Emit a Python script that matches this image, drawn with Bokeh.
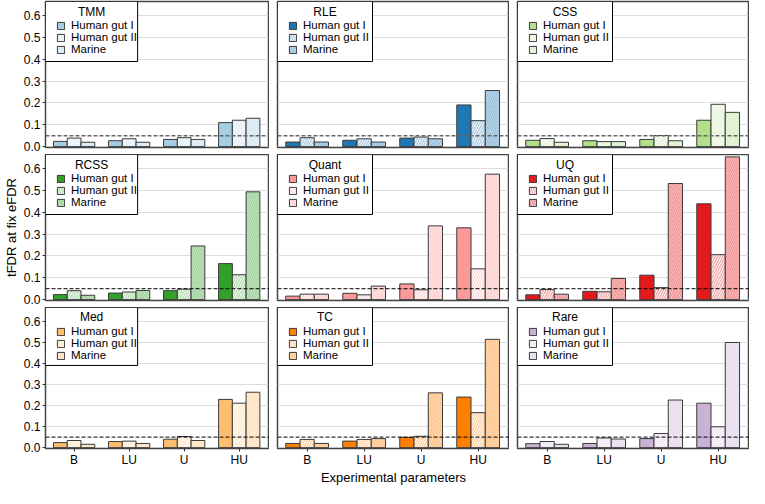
from bokeh.plotting import figure
from bokeh.layouts import gridplot
from bokeh.models import Range1d, FixedTicker, Span, Legend, LegendItem, PrintfTickFormatter
from bokeh.core.properties import value
from bokeh.embed import file_html
from bokeh.resources import INLINE

params = ["B", "LU", "U", "HU"]
datasets = ["Human gut I", "Human gut II", "Marine"]
methods = ["TMM", "RLE", "CSS", "RCSS", "Quant", "UQ", "Med", "TC", "Rare"]
colors = ["#a6cee3", "#1f78b4", "#b2df8a", "#33a02c", "#fb9a99", "#e31a1c",
          "#fdbf6f", "#ff7f00", "#cab2d6"]
y_ticks = [0.0, 0.1, 0.2, 0.3, 0.4, 0.5, 0.6]
efdr = 0.05

tmm_gut1 = [0.024, 0.027, 0.033, 0.110]
tmm_gut2 = [0.039, 0.036, 0.041, 0.121]
tmm_marine = [0.020, 0.020, 0.033, 0.130]
rle_gut1 = [0.021, 0.029, 0.039, 0.191]
rle_gut2 = [0.041, 0.036, 0.044, 0.119]
rle_marine = [0.021, 0.021, 0.036, 0.257]
css_gut1 = [0.029, 0.027, 0.033, 0.121]
css_gut2 = [0.037, 0.023, 0.051, 0.194]
css_marine = [0.020, 0.023, 0.027, 0.157]
rcss_gut1 = [0.023, 0.030, 0.041, 0.165]
rcss_gut2 = [0.041, 0.035, 0.048, 0.114]
rcss_marine = [0.020, 0.042, 0.246, 0.494]
quant_gut1 = [0.016, 0.029, 0.072, 0.329]
quant_gut2 = [0.025, 0.022, 0.045, 0.141]
quant_marine = [0.025, 0.062, 0.338, 0.575]
uq_gut1 = [0.022, 0.038, 0.112, 0.439]
uq_gut2 = [0.046, 0.036, 0.055, 0.206]
uq_marine = [0.025, 0.097, 0.532, 0.654]
med_gut1 = [0.024, 0.029, 0.040, 0.229]
med_gut2 = [0.034, 0.031, 0.053, 0.211]
med_marine = [0.016, 0.020, 0.034, 0.263]
tc_gut1 = [0.020, 0.031, 0.049, 0.240]
tc_gut2 = [0.039, 0.039, 0.054, 0.166]
tc_marine = [0.020, 0.043, 0.260, 0.514]
rare_gut1 = [0.019, 0.020, 0.043, 0.211]
rare_gut2 = [0.029, 0.046, 0.067, 0.099]
rare_marine = [0.016, 0.041, 0.226, 0.499]

values = {
    "TMM": [tmm_gut1, tmm_gut2, tmm_marine],
    "RLE": [rle_gut1, rle_gut2, rle_marine],
    "CSS": [css_gut1, css_gut2, css_marine],
    "RCSS": [rcss_gut1, rcss_gut2, rcss_marine],
    "Quant": [quant_gut1, quant_gut2, quant_marine],
    "UQ": [uq_gut1, uq_gut2, uq_marine],
    "Med": [med_gut1, med_gut2, med_marine],
    "TC": [tc_gut1, tc_gut2, tc_marine],
    "Rare": [rare_gut1, rare_gut2, rare_marine],
}

FONT = "Liberation Sans"
X0, X1 = -0.02, 4.05
Y0, Y1 = -0.004, 0.665


def mix_white(hexcol, t):
    r, g, b = (int(hexcol[i:i + 2], 16) for i in (1, 3, 5))
    r = round(r + (255 - r) * t)
    g = round(g + (255 - g) * t)
    b = round(b + (255 - b) * t)
    return "#%02x%02x%02x" % (r, g, b)


FRAME_H = 146
col_w = [269, 240, 240]
col_left = [38, 8, 8]
row_top = [1, 0, 0]
row_bottom = [7, 7, 34]
LEG_W = 95      # legend box width, px
LEG_H = 60      # legend box height, px
TITLE_DY = 10   # px from frame top to the legend title centre

figs = []
for idx, m in enumerate(methods):
    r_i, c_i = divmod(idx, 3)
    h = row_top[r_i] + FRAME_H + row_bottom[r_i]
    frame_w = col_w[c_i] - col_left[c_i]
    px_per_x = frame_w / (X1 - X0)
    px_per_y = FRAME_H / (Y1 - Y0)
    p = figure(width=col_w[c_i], height=h,
               x_range=Range1d(X0, X1), y_range=Range1d(Y0, Y1),
               output_backend="svg", toolbar_location=None,
               min_border=0, min_border_left=col_left[c_i], min_border_right=0,
               min_border_top=row_top[r_i], min_border_bottom=row_bottom[r_i])
    p.outline_line_color = "#444444"
    p.outline_line_width = 1.5
    p.xgrid.visible = False
    p.ygrid.ticker = FixedTicker(ticks=y_ticks)
    p.ygrid.grid_line_color = "#bbbbbb"
    p.ygrid.grid_line_dash = "1 1"
    p.ygrid.grid_line_width = 1

    # y axis
    p.yaxis.ticker = FixedTicker(ticks=y_ticks)
    p.yaxis.formatter = PrintfTickFormatter(format="%.1f")
    p.yaxis.axis_line_color = None
    p.yaxis.major_tick_in = 0
    p.yaxis.major_tick_out = 3
    p.yaxis.major_tick_line_color = "#333333"
    p.yaxis.minor_tick_line_color = None
    p.yaxis.major_label_text_font = FONT
    p.yaxis.major_label_text_font_size = "12px"
    p.yaxis.major_label_text_color = "black"
    p.yaxis.major_label_standoff = 2
    p.yaxis.axis_label_text_font = FONT
    p.yaxis.axis_label_text_font_size = "13px"
    p.yaxis.axis_label_text_font_style = "normal"
    p.yaxis.axis_label_text_color = "black"
    p.yaxis.axis_label_standoff = 2
    if c_i != 0:
        p.yaxis.visible = False
    elif r_i == 1:
        p.yaxis.axis_label = "tFDR at fix eFDR"

    # x axis
    p.xaxis.ticker = FixedTicker(ticks=[0.5, 1.5, 2.5, 3.5])
    p.xaxis.major_label_overrides = {0.5: params[0], 1.5: params[1],
                                     2.5: params[2], 3.5: params[3]}
    p.xaxis.axis_line_color = None
    p.xaxis.major_tick_in = 0
    p.xaxis.major_tick_out = 3
    p.xaxis.major_tick_line_color = "#333333"
    p.xaxis.minor_tick_line_color = None
    p.xaxis.major_label_text_font = FONT
    p.xaxis.major_label_text_font_size = "12px"
    p.xaxis.major_label_text_color = "black"
    p.xaxis.major_label_standoff = 1
    p.xaxis.axis_label_text_font = FONT
    p.xaxis.axis_label_text_font_size = "13px"
    p.xaxis.axis_label_text_font_style = "normal"
    p.xaxis.axis_label_text_color = "black"
    p.xaxis.axis_label_standoff = 0
    if r_i != 2:
        p.xaxis.visible = False
    elif c_i == 1:
        p.xaxis.axis_label = "Experimental parameters"

    col = colors[idx]
    g1, g2, ma = values[m]
    xs = [i + 0.5 for i in range(len(params))]
    r1 = p.vbar(x=[x - 0.25 for x in xs], top=g1, width=0.25, bottom=0,
                fill_color=col, line_color="#3a3a3a", line_width=1)
    r2 = p.vbar(x=xs, top=g2, width=0.25, bottom=0,
                fill_color=mix_white(col, 0.92), line_color="#3a3a3a", line_width=1,
                hatch_pattern="/", hatch_color=col, hatch_alpha=0.7,
                hatch_scale=5, hatch_weight=0.6)
    r3 = p.vbar(x=[x + 0.25 for x in xs], top=ma, width=0.25, bottom=0,
                fill_color=mix_white(col, 0.75), line_color="#3a3a3a", line_width=1,
                hatch_pattern="\\", hatch_color=col, hatch_alpha=0.7,
                hatch_scale=4.5, hatch_weight=0.6)

    if r_i == 0:
        span = Span(location=efdr, dimension="width", line_color="#666666",
                    line_width=1.5, line_dash="4 2")
    else:
        span = Span(location=efdr, dimension="width", line_color="black",
                    line_width=1, line_dash="4 2")
    p.add_layout(span)

    # legend box (white, black border) and its centred title
    box_right = X0 + LEG_W / px_per_x
    p.quad(left=[X0], right=[box_right], top=[Y1], bottom=[Y1 - LEG_H / px_per_y],
           fill_color="white", line_color="black", line_width=1)
    p.text(x=[(X0 + box_right) / 2], y=[Y1 - TITLE_DY / px_per_y], text=[m],
           text_align="center", text_baseline="middle",
           text_font=value(FONT), text_font_size="12px", text_color="black")

    legend = Legend(items=[LegendItem(label=datasets[0], renderers=[r1]),
                           LegendItem(label=datasets[1], renderers=[r2]),
                           LegendItem(label=datasets[2], renderers=[r3])],
                    location="top_left", title=" ")
    legend.margin = 4
    legend.padding = 6
    legend.spacing = 0
    legend.label_height = 11
    legend.glyph_height = 9
    legend.glyph_width = 9
    legend.label_standoff = 6
    legend.label_text_font = FONT
    legend.label_text_font_size = "11.5px"
    legend.label_text_color = "black"
    legend.label_text_line_height = 1.0
    legend.title_text_font = FONT
    legend.title_text_font_size = "6px"
    legend.title_text_font_style = "normal"
    legend.title_standoff = 1
    legend.border_line_color = "white"
    legend.border_line_alpha = 0.01
    legend.background_fill_alpha = 0
    p.add_layout(legend)
    figs.append(p)

grid = gridplot([figs[0:3], figs[3:6], figs[6:9]], toolbar_location=None)

open("out.html", "w").write(file_html(grid, INLINE))
